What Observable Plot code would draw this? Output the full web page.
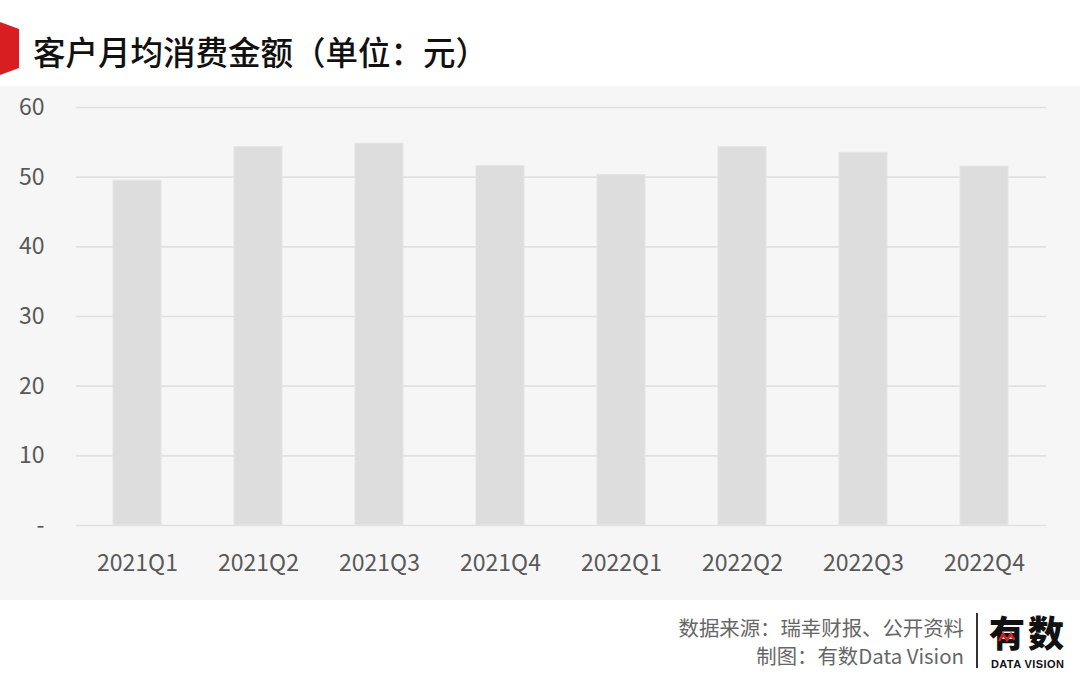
<!DOCTYPE html>
<html>
<head>
<meta charset="utf-8">
<script src="https://cdn.jsdelivr.net/npm/d3@7"></script>
<script src="https://cdn.jsdelivr.net/npm/@observablehq/plot@0.6"></script>
<style>
  html, body { margin: 0; padding: 0; background: #ffffff; }
  body { width: 1080px; height: 689px; overflow: hidden; font-family: "Noto Sans CJK SC", "Noto Sans", sans-serif; position: relative; }
  #header { position: relative; height: 86px; background: #ffffff; }
  #header svg.flag { position: absolute; left: 0; top: 0; }
  #title { position: absolute; left: 33px; top: 27px; font-size: 32.5px; font-weight: 500; color: #111111; line-height: 48px; white-space: nowrap; }
  #chart { height: 514px; background: #f6f6f6; }
  #footer { position: relative; height: 89px; background: #ffffff; }
  .cap { position: absolute; right: 116px; font-size: 20.4px; color: #666666; white-space: nowrap; line-height: 26px; }
  #vline { position: absolute; left: 976px; top: 13px; width: 1.5px; height: 55px; background: #333333; }
  #logo { position: absolute; left: 989px; top: 13.3px; font-size: 36px; font-weight: 900; color: #111; line-height: 36px; height: 36px; letter-spacing: 3px; }
  #logosub { position: absolute; left: 991px; top: 57.7px; font-size: 11px; line-height: 13px; font-weight: 700; color: #111; font-family: "Liberation Sans", Arial, sans-serif; letter-spacing: 0.4px; }
  #zig { position: absolute; left: 0; top: 0; }
</style>
</head>
<body>
<div id="header">
  <svg class="flag" width="24" height="86"><polygon points="0,22 19,29 19,68 0,75" fill="#d81e20"/></svg>
  <div id="title">客户月均消费金额（单位：元）</div>
</div>
<div id="chart"></div>
<div id="footer">
  <div class="cap" style="top:14px">数据来源：瑞幸财报、公开资料</div>
  <div class="cap" style="top:42px">制图：有数Data Vision</div>
  <div id="vline"></div>
  <div id="logo">有数</div>
  <div id="logosub">DATA VISION</div>
  <svg id="zig" width="1080" height="89"><polyline points="999,41 1003,34 1007,40 1011,34 1014,40" fill="none" stroke="#d81e20" stroke-width="2.5" stroke-linejoin="miter"/></svg>
</div>
<script>
const quarters = ["2021Q1","2021Q2","2021Q3","2021Q4","2022Q1","2022Q2","2022Q3","2022Q4"];
const spend = [49.5, 54.3, 54.8, 51.6, 50.3, 54.3, 53.5, 51.5];
const yTicks = [0, 10, 20, 30, 40, 50, 60];

const data = quarters.map((q, i) => ({quarter: q, value: spend[i]}));

const chart = Plot.plot({
  width: 1080,
  height: 514,
  marginTop: 21,
  marginBottom: 75,
  marginLeft: 76,
  marginRight: 34,
  style: {background: "#f6f6f6", fontFamily: "'Noto Sans CJK SC', 'Noto Sans', sans-serif", fontSize: "23px", color: "#595959"},
  x: {domain: quarters, paddingInner: 0.6, paddingOuter: 0.3, label: null},
  y: {domain: [0, 60], label: null},
  marks: [
    Plot.ruleY(yTicks, {stroke: "#e1e1e1", strokeWidth: 1.6}),
    Plot.barY(data, {x: "quarter", y: "value", fill: "#dddddd", stroke: "#e4e4e4", strokeWidth: 1}),
    Plot.axisX({tickSize: 0, tickPadding: 29, fontSize: 23, fill: "#595959"}),
    Plot.axisY({ticks: yTicks, tickSize: 0, tickPadding: 32, fontSize: 23, fill: "#595959", tickFormat: d => d === 0 ? "-" : String(d)})
  ]
});
document.getElementById("chart").appendChild(chart);
</script>
</body>
</html>
